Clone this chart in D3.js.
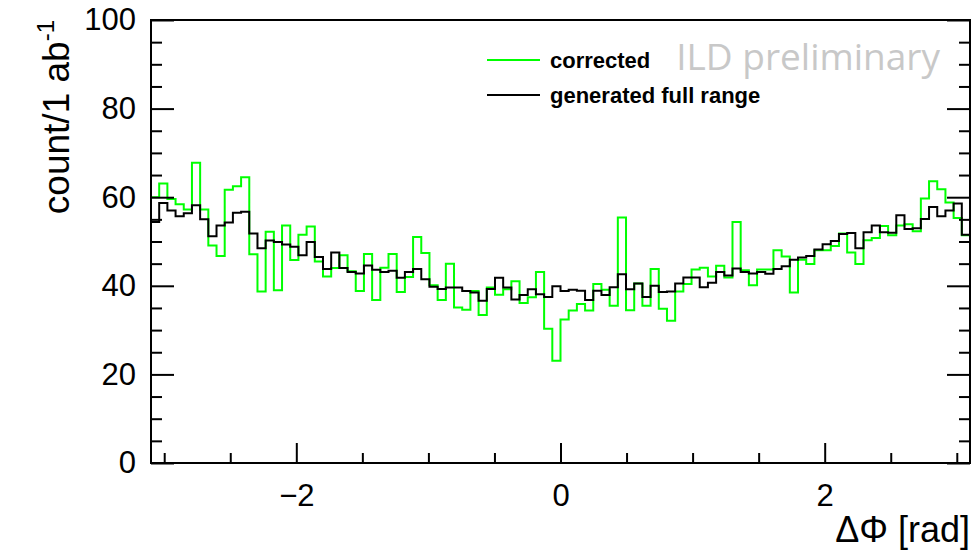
<!DOCTYPE html>
<html>
<head>
<meta charset="utf-8">
<script src="https://cdn.jsdelivr.net/npm/d3@7"></script>
<style>
  body { margin: 0; background: #fff; }
  svg { display: block; }
</style>
</head>
<body>
<svg width="976" height="551"></svg>
<script>
// histogram range and bin contents (100 bins)
var xRange = [-3.1, 3.1];
var xTicks = [-2, 0, 2];
var yTicks = [0, 20, 40, 60, 80, 100];

var corrected = [
  60.0, 63.1, 59.6, 58.4, 57.2, 67.8, 57.2, 49.1, 46.7, 61.7,
  62.5, 64.5, 47.1, 38.7, 52.2, 39.0, 53.6, 45.8, 51.5, 53.4,
  45.5, 42.1, 44.0, 46.9, 43.3, 38.8, 47.2, 36.8, 44.1, 47.2,
  38.6, 42.0, 51.0, 47.4, 40.1, 36.8, 45.0, 35.1, 34.6, 38.8,
  33.4, 39.6, 38.0, 39.2, 41.0, 36.1, 37.4, 43.1, 30.3, 23.1,
  32.4, 34.4, 35.9, 34.4, 40.4, 39.1, 35.5, 55.4, 34.5, 40.5,
  35.5, 43.8, 34.8, 32.1, 38.7, 40.4, 43.7, 44.1, 42.1, 44.5,
  41.9, 54.4, 43.5, 40.1, 43.7, 43.7, 48.0, 46.6, 38.5, 45.9,
  44.9, 48.0, 48.0, 49.0, 51.8, 47.5, 44.9, 50.3, 50.8, 53.5,
  51.4, 53.6, 53.9, 52.3, 59.7, 63.6, 61.8, 58.8, 55.3, 51.4
];

var generated = [
  54.4, 58.7, 57.0, 55.7, 56.4, 58.2, 55.0, 51.2, 53.6, 54.3,
  56.5, 56.7, 51.8, 48.5, 50.2, 49.9, 49.3, 48.8, 46.9, 49.9,
  46.5, 43.8, 47.5, 44.0, 43.1, 42.8, 44.6, 43.6, 43.1, 43.4,
  41.8, 43.1, 43.8, 41.5, 39.8, 39.3, 39.6, 39.6, 38.8, 38.5,
  36.6, 39.3, 41.8, 39.6, 36.9, 37.9, 39.2, 38.1, 37.5, 39.9,
  38.8, 39.1, 38.9, 36.8, 38.9, 37.9, 39.7, 42.6, 39.2, 40.5,
  37.5, 40.0, 38.6, 38.7, 40.5, 41.9, 41.9, 39.7, 40.7, 43.1,
  42.3, 43.9, 43.1, 42.8, 43.1, 42.7, 43.8, 44.4, 45.9, 46.4,
  46.7, 48.2, 49.4, 50.1, 51.7, 51.9, 48.5, 52.1, 53.6, 52.1,
  52.0, 55.9, 52.8, 53.0, 55.1, 57.8, 55.7, 57.0, 58.6, 51.5
];

var svg = d3.select("svg"),
    margin = { top: 20, right: 6, bottom: 88, left: 151 },
    width = +svg.attr("width") - margin.left - margin.right,
    height = +svg.attr("height") - margin.top - margin.bottom,
    g = svg.append("g").attr("transform", "translate(" + margin.left + "," + margin.top + ")");

var font = "'Liberation Sans', Arial, Helvetica, sans-serif";

var x = d3.scaleLinear().domain(xRange).range([0, width]);
var y = d3.scaleLinear().domain([0, 100]).range([height, 0]);

var nBins = corrected.length,
    binW = (xRange[1] - xRange[0]) / nBins;

// turn bin contents into step points (left edge of every bin + last right edge)
function steps(vals) {
    var pts = vals.map(function (v, i) { return { x: xRange[0] + i * binW, v: v }; });
    pts.push({ x: xRange[1], v: vals[vals.length - 1] });
    return pts;
}

var line = d3.line()
    .curve(d3.curveStepAfter)
    .x(function (d) { return x(d.x); })
    .y(function (d) { return y(d.v); });

svg.append("defs").append("clipPath").attr("id", "clip")
    .append("rect").attr("width", width).attr("height", height);

var plot = g.append("g").attr("clip-path", "url(#clip)");

plot.append("path")
    .datum(steps(corrected))
    .attr("fill", "none")
    .attr("stroke", "#00ff00")
    .attr("stroke-width", 2)
    .attr("d", line);

plot.append("path")
    .datum(steps(generated))
    .attr("fill", "none")
    .attr("stroke", "#000")
    .attr("stroke-width", 2)
    .attr("d", line);

// minor ticks
var xMinor = d3.range(-3, 3.01, 0.5).filter(function (v) { return xTicks.indexOf(v) < 0; });
var yMinor = d3.range(0, 101, 5).filter(function (v) { return yTicks.indexOf(v) < 0; });

function styleAxis(sel) {
    sel.selectAll(".domain").remove();
    sel.selectAll("line").attr("stroke", "#000").attr("stroke-width", 2);
    sel.selectAll("text").attr("font-family", font).attr("font-size", 31).attr("fill", "#000");
}

g.append("g")
    .attr("transform", "translate(0," + height + ")")
    .call(d3.axisBottom(x).tickValues(xTicks).tickSize(-20).tickPadding(21).tickFormat(d3.format("d")))
    .call(styleAxis);

g.append("g")
    .attr("transform", "translate(0," + height + ")")
    .call(d3.axisBottom(x).tickValues(xMinor).tickSize(-10).tickFormat(""))
    .call(styleAxis);

g.append("g")
    .call(d3.axisLeft(y).tickValues(yTicks).tickSize(-23).tickPadding(15))
    .call(styleAxis);

g.append("g")
    .call(d3.axisLeft(y).tickValues(yMinor).tickSize(-11).tickFormat(""))
    .call(styleAxis);

g.append("g")
    .attr("transform", "translate(" + width + ",0)")
    .call(d3.axisRight(y).tickValues(yTicks).tickSize(-23).tickFormat(""))
    .call(styleAxis);

g.append("g")
    .attr("transform", "translate(" + width + ",0)")
    .call(d3.axisRight(y).tickValues(yMinor).tickSize(-11).tickFormat(""))
    .call(styleAxis);

// frame
g.append("rect")
    .attr("width", width)
    .attr("height", height)
    .attr("fill", "none")
    .attr("stroke", "#000")
    .attr("stroke-width", 2);

// axis titles
g.append("text")
    .attr("x", width)
    .attr("y", height + 79)
    .attr("text-anchor", "end")
    .attr("font-family", font)
    .attr("font-size", 36)
    .text("\u0394\u03A6 [rad]");

var yt = svg.append("text")
    .attr("transform", "translate(69," + margin.top + ") rotate(-90)")
    .attr("text-anchor", "end")
    .attr("font-family", font)
    .attr("font-size", 37);
yt.append("tspan").text("count/1 ab");
yt.append("tspan").attr("font-size", 24).attr("dy", -15).text("-1");

// legend
var legend = [
    { name: "corrected", color: "#00ff00" },
    { name: "generated full range", color: "#000" }
];

var lg = svg.append("g").attr("transform", "translate(487,60)");
lg.selectAll("line")
    .data(legend)
    .enter().append("line")
    .attr("x1", 0).attr("x2", 53)
    .attr("y1", function (d, i) { return i * 35; })
    .attr("y2", function (d, i) { return i * 35; })
    .attr("stroke", function (d) { return d.color; })
    .attr("stroke-width", 2);
lg.selectAll("text")
    .data(legend)
    .enter().append("text")
    .attr("x", 63)
    .attr("y", function (d, i) { return i * 35 + 8; })
    .attr("font-family", font)
    .attr("font-weight", "bold")
    .attr("font-size", 22)
    .text(function (d) { return d.name; });

// watermark
svg.append("text")
    .attr("x", 940)
    .attr("y", 70)
    .attr("text-anchor", "end")
    .attr("font-family", "'Open Sans', 'Noto Sans', sans-serif")
    .attr("font-size", 37)
    .attr("fill", "#c8c8c8")
    .text("ILD preliminary");
</script>
</body>
</html>
